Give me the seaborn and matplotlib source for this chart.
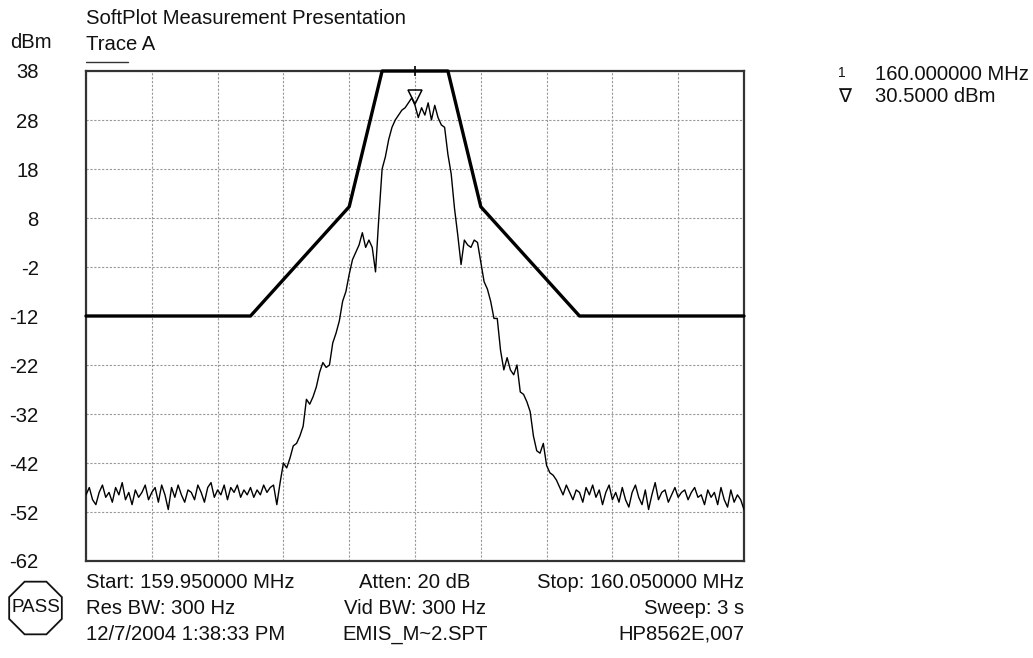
import numpy as np
import pandas as pd
import matplotlib
matplotlib.use("Agg")
import matplotlib.pyplot as plt
import matplotlib.patches as mpatches
import matplotlib.transforms as mtransforms
import seaborn as sns

# ---------------- data ----------------
start_mhz = 159.950000
stop_mhz = 160.050000
ref_top = 38
ref_bottom = -62
ytick_values = [38, 28, 18, 8, -2, -12, -22, -32, -42, -52, -62]

# trace A levels (dBm), 201 points evenly spread from start to stop
noise_left = [
    -48.5, -47.0, -49.5, -50.5, -48.0, -46.5, -49.0, -48.0, -50.0, -47.0,
    -48.5, -46.0, -49.5, -48.0, -50.5, -47.5, -49.0, -48.0, -46.5, -49.5,
    -48.0, -47.0, -50.0, -46.5, -48.5, -51.5, -47.0, -49.0, -46.5, -48.5,
    -50.0, -47.5, -48.0, -49.5, -46.5, -48.0, -50.0, -47.0, -46.0, -49.0,
    -47.5, -48.5, -46.5, -49.5, -47.0, -48.0, -46.5, -49.0, -47.5, -48.5,
    -47.0, -49.0, -47.5, -48.5, -46.5, -48.0, -47.0, -46.5, -50.5, -46.0,
]
signal = [
    -42.0, -43.0, -41.0, -38.5, -38.0, -36.5, -34.5, -29.0, -30.0, -28.5,
    -26.5, -23.5, -21.5, -22.5, -22.0, -17.5, -15.5, -13.0, -9.0, -7.0,
    -3.5, -0.5, 1.0, 2.5, 5.0, 2.0, 3.5, 2.0, -3.0, 8.0,
    18.0, 20.5, 24.0, 26.5, 28.0, 29.0, 30.0, 30.5, 31.5, 32.5,
    31.0, 28.5, 30.5, 29.0, 31.5, 28.0, 31.0, 28.5, 27.0, 26.5,
    21.0, 17.0, 10.0, 4.5, -1.5, 3.5, 2.5, 2.0, 3.5, 3.0,
    -1.0, -5.0, -6.5, -9.0, -12.5, -12.5, -19.0, -23.0, -20.5, -23.0,
    -24.0, -22.0, -27.5, -28.0, -29.5, -31.5, -36.5, -39.5, -40.0, -38.0,
    -42.5, -44.0, -44.5, -45.5, -47.0,
]
noise_right = [
    -48.5, -46.5, -48.0, -49.5, -47.5, -48.0, -50.0, -47.0, -48.5, -46.5,
    -49.0, -47.5, -50.5, -48.0, -46.5, -49.5, -48.0, -50.0, -47.0, -49.5,
    -51.0, -48.0, -46.5, -49.0, -50.5, -47.5, -51.5, -48.5, -46.0, -49.5,
    -48.0, -47.5, -50.0, -48.5, -47.0, -49.0, -48.0, -47.5, -49.5, -48.0,
    -47.0, -49.0, -48.5, -50.5, -47.5, -49.0, -48.0, -50.5, -47.0, -49.5,
    -51.0, -47.5, -50.0, -48.5, -49.5, -51.5,
]
trace_dbm = noise_left + signal + noise_right

# limit mask: offsets from centre (kHz) and limit (dBm)
mask_khz = [-50, -25, -10, -5, 5, 10, 25, 50]
mask_dbm = [-12, -12, 10.3, 38, 38, 10.3, -12, -12]

marker_mhz = 160.000000
marker_dbm = 30.5

# ---------------- frames ----------------
center_mhz = (start_mhz + stop_mhz) / 2
trace_df = pd.DataFrame({
    "freq": np.linspace(start_mhz, stop_mhz, len(trace_dbm)),
    "level": trace_dbm,
})
mask_df = pd.DataFrame({
    "freq": [center_mhz + k / 1000.0 for k in mask_khz],
    "level": mask_dbm,
})

# ---------------- style ----------------
sns.set_theme(style="white")
plt.rcParams["font.family"] = ["Liberation Sans", "DejaVu Sans"]
FS = 14.6

fig = plt.figure(figsize=(10.33, 6.58), dpi=100)
ax = fig.add_axes([86 / 1033, 1 - 561 / 658, (744 - 86) / 1033, (561 - 71) / 658])

sns.lineplot(data=trace_df, x="freq", y="level", ax=ax, color="black",
             linewidth=1.0, estimator=None, sort=False, zorder=3)
sns.lineplot(data=mask_df, x="freq", y="level", ax=ax, color="black",
             linewidth=2.4, estimator=None, sort=False, zorder=4, clip_on=False)

ax.set_xlim(start_mhz, stop_mhz)
ax.set_ylim(ref_bottom, ref_top)
ax.set_xticks(np.linspace(start_mhz, stop_mhz, 11))
ax.set_xticklabels([])
ax.set_yticks(ytick_values)
ax.set_yticklabels([str(v) for v in ytick_values], fontsize=FS, color="#111111")
ax.tick_params(axis="both", length=0)
ax.tick_params(axis="y", pad=34)
for lab in ax.get_yticklabels():
    lab.set_horizontalalignment("right")
ax.set_xlabel("")
ax.set_ylabel("")
ax.grid(True, color="#999999", linestyle=(0, (2, 1.5)), linewidth=0.8)
for sp in ax.spines.values():
    sp.set_color("#333333")
    sp.set_linewidth(1.6)

# marker
off = mtransforms.offset_copy(ax.transData, fig=fig, x=0, y=8, units="points")
ax.plot([marker_mhz], [marker_dbm], marker="v", markersize=10, fillstyle="none",
        markeredgecolor="black", markeredgewidth=1.1, linestyle="none",
        transform=off, zorder=5)
ax.plot([marker_mhz], [ref_top], marker="|", markersize=7, color="black",
        markeredgewidth=1.2, clip_on=False, zorder=6)

# ---------------- texts ----------------
def ftxt(x, y, s, ha="left", size=FS, **kw):
    fig.text(x / 1033, 1 - y / 658, s, ha=ha, va="center", fontsize=size,
             color="#111111", **kw)

ftxt(86, 18, "SoftPlot Measurement Presentation")
ftxt(10, 42, "dBm")
ftxt(86, 45, "Trace A")
fig.add_artist(plt.Line2D([86 / 1033, 128 / 1033], [1 - 62 / 658, 1 - 62 / 658],
                          color="#333333", linewidth=1.0))

ftxt(838, 73, "1", size=10)
ftxt(875, 74, "160.000000 MHz")
ftxt(838, 97, "∇", size=14)
ftxt(875, 97, "30.5000 dBm")

rows = [582, 608, 634]
ftxt(86, rows[0], f"Start: {start_mhz:.6f} MHz")
ftxt(415, rows[0], "Atten: 20 dB", ha="center")
ftxt(744, rows[0], f"Stop: {stop_mhz:.6f} MHz", ha="right")
ftxt(86, rows[1], "Res BW: 300 Hz")
ftxt(415, rows[1], "Vid BW: 300 Hz", ha="center")
ftxt(744, rows[1], "Sweep: 3 s", ha="right")
ftxt(86, rows[2], "12/7/2004 1:38:33 PM")
ftxt(415, rows[2], "EMIS_M~2.SPT", ha="center")
ftxt(744, rows[2], "HP8562E,007", ha="right")

# PASS octagon
octo = mpatches.RegularPolygon((0.355, (658 - 608) / 100), numVertices=8,
                               radius=0.285, orientation=np.pi / 8,
                               transform=fig.dpi_scale_trans, fill=False,
                               edgecolor="#111111", linewidth=1.3)
fig.add_artist(octo)
ftxt(35.5, 608, "PASS", ha="center", size=13.5)

fig.savefig("out.png", dpi=100)
